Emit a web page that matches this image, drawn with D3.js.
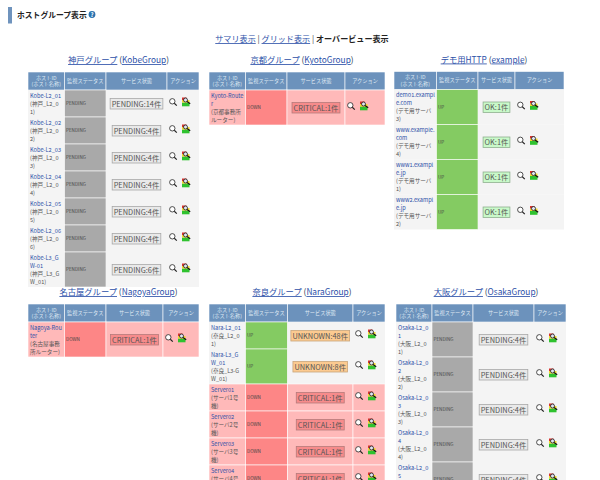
<!DOCTYPE html>
<html>
<head>
<meta charset="utf-8">
<script src="https://cdn.jsdelivr.net/npm/d3@7"></script>
<style>
    html, body { margin: 0; padding: 0; background: #fff; overflow: hidden; }
    svg { display: block; font-family: "Noto Sans CJK JP", "Noto Sans", sans-serif; }
</style>
</head>
<body>
<div id="chart"></div>
<script>
const navItems = ["サマリ表示", "グリッド表示", "オーバービュー表示"];
const columnTitles = [["ホストID", "(ホスト名称)"], ["監視ステータス"], ["サービス状態"], ["アクション"]];

// kobe
const kobeIds = [["Kobe-L2_01"], ["Kobe-L2_02"], ["Kobe-L2_03"], ["Kobe-L2_04"], ["Kobe-L2_05"], ["Kobe-L2_06"], ["Kobe-L3_G", "W-01"]];
const kobeNames = [["(神戸_L2_0", "1)"], ["(神戸_L2_0", "2)"], ["(神戸_L2_0", "3)"], ["(神戸_L2_0", "4)"], ["(神戸_L2_0", "5)"], ["(神戸_L2_0", "6)"], ["(神戸_L3_G", "W_01)"]];
const kobeStatus = ["PENDING", "PENDING", "PENDING", "PENDING", "PENDING", "PENDING", "PENDING"];
const kobeServices = ["PENDING", "PENDING", "PENDING", "PENDING", "PENDING", "PENDING", "PENDING"];
const kobeCounts = [14, 4, 4, 4, 4, 4, 6];

// kyoto
const kyotoIds = [["Kyoto-Route", "r"]];
const kyotoNames = [["(京都事務所", "ルーター)"]];
const kyotoStatus = ["DOWN"];
const kyotoServices = ["CRITICAL"];
const kyotoCounts = [1];

// demo
const demoIds = [["demo1.exampl", "e.com"], ["www.example.", "com"], ["www1.exampl", "e.jp"], ["www2.exampl", "e.jp"]];
const demoNames = [["(デモ用サーバ", "3)"], ["(デモ用サーバ", "4)"], ["(デモ用サーバ", "1)"], ["(デモ用サーバ", "2)"]];
const demoStatus = ["UP", "UP", "UP", "UP"];
const demoServices = ["OK", "OK", "OK", "OK"];
const demoCounts = [1, 1, 1, 1];

// nagoya
const nagoyaIds = [["Nagoya-Rou", "ter"]];
const nagoyaNames = [["(名古屋事務", "所ルーター)"]];
const nagoyaStatus = ["DOWN"];
const nagoyaServices = ["CRITICAL"];
const nagoyaCounts = [1];

// nara
const naraIds = [["Nara-L2_01"], ["Nara-L3_G", "W_01"], ["Server01"], ["Server02"], ["Server03"], ["Server04"]];
const naraNames = [["(奈良_L2_0", "1)"], ["(奈良_L3-G", "W_01)"], ["(サーバ1号", "機)"], ["(サーバ2号", "機)"], ["(サーバ3号", "機)"], ["(サーバ4号", "機)"]];
const naraStatus = ["UP", "UP", "DOWN", "DOWN", "DOWN", "DOWN"];
const naraServices = ["UNKNOWN", "UNKNOWN", "CRITICAL", "CRITICAL", "CRITICAL", "CRITICAL"];
const naraCounts = [48, 8, 1, 1, 1, 1];

// osaka
const osakaIds = [["Osaka-L2_0", "1"], ["Osaka-L2_0", "2"], ["Osaka-L2_0", "3"], ["Osaka-L2_0", "4"], ["Osaka-L2_0", "5"]];
const osakaNames = [["(大阪_L2_0", "1)"], ["(大阪_L2_0", "2)"], ["(大阪_L2_0", "3)"], ["(大阪_L2_0", "4)"], ["(大阪_L2_0", "5)"]];
const osakaStatus = ["PENDING", "PENDING", "PENDING", "PENDING", "PENDING"];
const osakaServices = ["PENDING", "PENDING", "PENDING", "PENDING", "PENDING"];
const osakaCounts = [4, 4, 4, 4, 4];

const groups = [
    { title: "神戸グループ", code: "KobeGroup", ids: kobeIds, names: kobeNames, status: kobeStatus, services: kobeServices, counts: kobeCounts, edges: [28, 64.5, 106, 167, 199], top: 72 },
    { title: "京都グループ", code: "KyotoGroup", ids: kyotoIds, names: kyotoNames, status: kyotoStatus, services: kyotoServices, counts: kyotoCounts, edges: [209, 245.5, 287, 345, 385], top: 72 },
    { title: "デモ用HTTP", code: "example", ids: demoIds, names: demoNames, status: demoStatus, services: demoServices, counts: demoCounts, edges: [394, 436.5, 478, 515, 564], top: 71.5 },
    { title: "名古屋グループ", code: "NagoyaGroup", ids: nagoyaIds, names: nagoyaNames, status: nagoyaStatus, services: nagoyaServices, counts: nagoyaCounts, edges: [28, 64.5, 106, 163, 199], top: 304 },
    { title: "奈良グループ", code: "NaraGroup", ids: naraIds, names: naraNames, status: naraStatus, services: naraServices, counts: naraCounts, edges: [209, 245.5, 287.5, 353, 385], top: 304 },
    { title: "大阪グループ", code: "OsakaGroup", ids: osakaIds, names: osakaNames, status: osakaStatus, services: osakaServices, counts: osakaCounts, edges: [396, 432, 473, 534, 566], top: 304 }
];

const WIDTH = 600;
const HEIGHT = 480;
const HEADER_HEIGHT = 18;
const LINK_COLOR = "#2c50a8";
const TEXT_COLOR = "#555";

const rowHeight = d3.scaleLinear().domain([3, 4]).range([27, 35]);
const statusFill = d3.scaleOrdinal(["PENDING", "UP", "DOWN"], ["#a9a9a9", "#84cb62", "#fd8686"]);
const badgeFill = d3.scaleOrdinal(["PENDING", "OK", "CRITICAL", "UNKNOWN"], ["#e9e9e9", "#c9f9c9", "#f78b8b", "#fcca90"]);
const badgeStroke = d3.scaleOrdinal(["PENDING", "OK", "CRITICAL", "UNKNOWN"], ["#a8a8a8", "#8fb08f", "#b57a7a", "#c9a67c"]);

const svg = d3.select("#chart").append("svg")
    .attr("width", WIDTH)
    .attr("height", HEIGHT)
    .attr("viewBox", [0, 0, WIDTH, HEIGHT]);

// page heading
svg.append("rect").attr("x", 8).attr("y", 7).attr("width", 4).attr("height", 16.5).attr("fill", "#6f93bd");
svg.append("text").attr("x", 17).attr("y", 18)
    .attr("font-size", 7.8).attr("font-weight", 700).attr("fill", "#222")
    .text("ホストグループ表示");
svg.append("circle").attr("cx", 92).attr("cy", 14.5).attr("r", 3.4).attr("fill", "#2a72b0");
svg.append("text").attr("x", 92).attr("y", 16.8).attr("text-anchor", "middle")
    .attr("font-size", 6).attr("font-weight", 700).attr("fill", "#fff").text("?");

// view switch
const nav = svg.append("text").attr("x", 302).attr("y", 42).attr("text-anchor", "middle").attr("font-size", 8.1);
navItems.forEach((item, i) => {
    const last = i === navItems.length - 1;
    nav.append("tspan")
        .attr("fill", last ? "#222" : LINK_COLOR)
        .attr("font-weight", last ? 700 : 400)
        .attr("text-decoration", last ? null : "underline")
        .text(item);
    if (!last) nav.append("tspan").attr("fill", "#444").attr("xml:space", "preserve").text(" | ");
});

function drawIcons(g) {
    // magnifier
    const lens = g.append("g").attr("transform", "translate(6,0)");
    lens.append("circle").attr("cx", -0.7).attr("cy", -0.7).attr("r", 2.7)
        .attr("fill", "#fff").attr("stroke", "#222").attr("stroke-width", 0.8);
    lens.append("line").attr("x1", 1.3).attr("y1", 1.3).attr("x2", 3.8).attr("y2", 3.6)
        .attr("stroke", "#222").attr("stroke-width", 1.2);

    // report icon
    const report = g.append("g").attr("transform", "translate(19,0)");
    report.append("rect").attr("x", -4).attr("y", 0.5).attr("width", 7.5).attr("height", 3.8).attr("fill", "#2fc22f");
    report.append("rect").attr("x", -4).attr("y", -2).attr("width", 7.5).attr("height", 2.5).attr("fill", "#f1d92d");
    report.append("rect").attr("x", -4).attr("y", -4.5).attr("width", 4.5).attr("height", 2.5).attr("fill", "#d8322e");
    report.append("circle").attr("cx", -0.5).attr("cy", -2).attr("r", 2)
        .attr("fill", "#dfe6f2").attr("stroke", "#222").attr("stroke-width", 0.8);
    report.append("line").attr("x1", 1).attr("y1", -0.5).attr("x2", 4.2).attr("y2", 1.8)
        .attr("stroke", "#111").attr("stroke-width", 1.2);
}

function drawGroup(group) {
    const g = svg.append("g");
    const [x0, x1, x2, x3, x4] = group.edges;
    const bodyTop = group.top + HEADER_HEIGHT;

    const heights = group.ids.map((id, i) => rowHeight(id.length + group.names[i].length));
    const tops = [bodyTop, ...d3.cumsum(heights).map(h => bodyTop + h)];

    // group title
    const title = g.append("text")
        .attr("x", (x0 + x4) / 2 + 5)
        .attr("y", group.top - 9)
        .attr("text-anchor", "middle")
        .attr("font-size", 8.3)
        .attr("fill", "#345");
    title.append("tspan").attr("fill", LINK_COLOR).attr("text-decoration", "underline").text(group.title);
    title.append("tspan").text(" (");
    title.append("tspan").attr("fill", LINK_COLOR).attr("text-decoration", "underline").text(group.code);
    title.append("tspan").text(")");

    // header cells
    const header = g.selectAll(".head").data(columnTitles).join("g").attr("class", "head");
    header.append("rect")
        .attr("x", (d, i) => group.edges[i])
        .attr("y", group.top)
        .attr("width", (d, i) => group.edges[i + 1] - group.edges[i])
        .attr("height", HEADER_HEIGHT)
        .attr("fill", "#6c92bc")
        .attr("stroke", "#fff")
        .attr("stroke-width", 0.6);
    header.each(function (lines, i) {
        const cx = (group.edges[i] + group.edges[i + 1]) / 2;
        const cy = group.top + HEADER_HEIGHT / 2;
        d3.select(this).selectAll("text").data(lines).join("text")
            .attr("x", cx)
            .attr("y", (d, j) => cy + 1.9 + (j - (lines.length - 1) / 2) * 6.8)
            .attr("text-anchor", "middle")
            .attr("font-size", 5.2)
            .attr("fill", "#dfe8f3")
            .text(d => d);
    });

    // body rows
    const rows = g.selectAll(".row").data(group.ids).join("g").attr("class", "row")
        .attr("transform", (d, i) => `translate(0,${tops[i]})`);

    rows.each(function (idLines, i) {
        const row = d3.select(this);
        const h = heights[i];
        const status = group.status[i];
        const service = group.services[i];
        const rowFill = status === "DOWN" ? "#ffb9b9" : "#f4f4f4";
        const midY = h / 2;

        [[x0, x1, rowFill], [x1, x2, statusFill(status)], [x2, x3, rowFill], [x3, x4, rowFill]].forEach(([a, b, fill]) => {
            row.append("rect")
                .attr("x", a).attr("y", 0)
                .attr("width", b - a).attr("height", h)
                .attr("fill", fill)
                .attr("stroke", (fill === rowFill && status !== "DOWN") ? "none" : "#fff")
                .attr("stroke-width", 0.6);
        });

        // host id and name
        const lines = [
            ...idLines.map(t => ({ t, fill: LINK_COLOR })),
            ...group.names[i].map(t => ({ t, fill: TEXT_COLOR }))
        ];
        row.selectAll(".host").data(lines).join("text").attr("class", "host")
            .attr("x", x0 + 2)
            .attr("y", (d, j) => 7.8 + j * 7.9)
            .attr("font-size", 5.6)
            .attr("fill", d => d.fill)
            .text(d => d.t);

        // status label
        row.append("text")
            .attr("x", x1 + 1.5)
            .attr("y", midY + 1.5)
            .attr("font-size", 4.6)
            .attr("fill", "#444")
            .text(status);

        // service badge, sized from its text
        const label = row.append("text")
            .attr("x", (x2 + x3) / 2)
            .attr("y", midY + 3)
            .attr("text-anchor", "middle")
            .attr("font-size", 7.4)
            .attr("fill", "#555")
            .text(`${service}:${group.counts[i]}件`);
        const w = label.node().getComputedTextLength() + 3;
        row.insert("rect", "text")
            .attr("x", (x2 + x3) / 2 - w / 2)
            .attr("y", midY - 5)
            .attr("width", w)
            .attr("height", 10.5)
            .attr("fill", badgeFill(service))
            .attr("stroke", badgeStroke(service))
            .attr("stroke-width", 0.8);

        drawIcons(row.append("g").attr("transform", `translate(${x3},${midY - 1.5})`));
    });
}

groups.forEach(drawGroup);
</script>
</body>
</html>
